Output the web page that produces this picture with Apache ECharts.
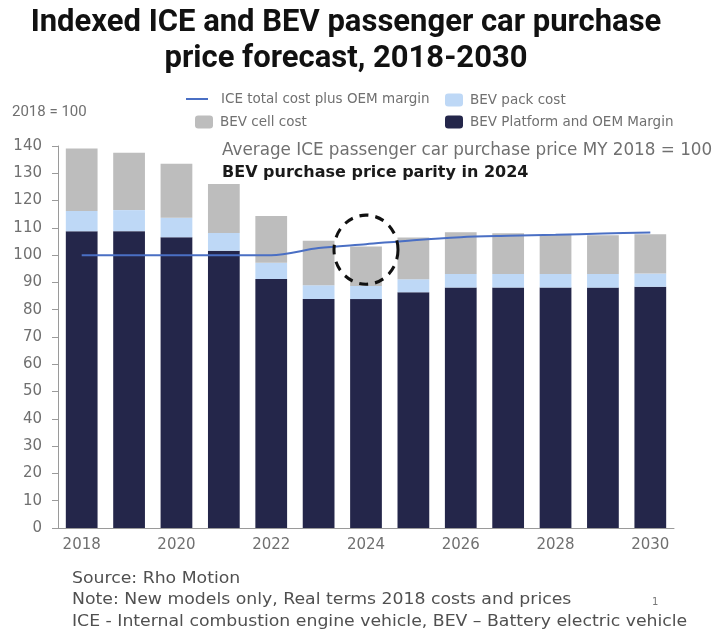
<!DOCTYPE html>
<html>
<head>
<meta charset="utf-8">
<script src="https://cdn.jsdelivr.net/npm/echarts@6/dist/echarts.min.js"></script>
<style>
  html, body { margin: 0; padding: 0; background: #fff; }
  #chart { width: 715px; height: 631px; }
</style>
</head>
<body>
<div id="chart"></div>
<script>
// Model years on the category axis
const years = ['2018','2019','2020','2021','2022','2023','2024','2025','2026','2027','2028','2029','2030'];

// Stacked BEV price components (index, MY 2018 ICE = 100)
const platformMargin = [108.8, 108.8, 106.6, 101.6, 91.3, 83.9, 83.9, 86.4, 88.1, 88.1, 88.1, 88.1, 88.4];
const packCost       = [7.4, 7.7, 7.1, 6.5, 5.9, 5.1, 4.8, 4.8, 5.0, 5.0, 5.0, 5.0, 4.9];
const cellCost       = [22.9, 21.0, 19.8, 18.0, 17.1, 16.3, 14.5, 15.3, 15.3, 14.9, 14.3, 14.2, 14.4];

// ICE total cost plus OEM margin
const iceTotal = [100, 100, 100, 100, 100, 102.6, 104.0, 105.5, 106.6, 107.1, 107.5, 107.9, 108.3];

// Value axis ticks
const yTicks = { min: 0, max: 140, interval: 10 };

// Where the parity callout sits
const parityYear = '2024';
const parityValue = 102;

const TITLE_FONT = 'Roboto, "Noto Sans", sans-serif';
const BODY_FONT = '"DejaVu Sans", "Noto Sans", sans-serif';
const GREY_TEXT = '#707070';

const chart = echarts.init(document.getElementById('chart'), null, { renderer: 'canvas' });

function legendAt(name, left, top, extra) {
  return Object.assign({
    data: [name],
    left: left,
    top: top,
    orient: 'horizontal',
    itemWidth: 18,
    itemHeight: 13,
    itemGap: 0,
    selectedMode: false,
    textStyle: { color: GREY_TEXT, fontFamily: BODY_FONT, fontSize: 13.5, padding: [0, 0, 0, 2] }
  }, extra || {});
}

const option = {
  backgroundColor: '#ffffff',
  animation: false,
  grid: { left: 58, right: 41, top: 146, bottom: 103, containLabel: false },
  legend: [
    legendAt('ICE total cost plus OEM margin', 181, 87, { icon: 'rect', itemWidth: 22, itemHeight: 2, textStyle: { color: GREY_TEXT, fontFamily: BODY_FONT, fontSize: 13.5, padding: [0, 0, 0, 8] } }),
    legendAt('BEV pack cost', 440, 88),
    legendAt('BEV cell cost', 190, 110),
    legendAt('BEV Platform and OEM Margin', 440, 110)
  ],
  xAxis: {
    type: 'category',
    data: years,
    boundaryGap: true,
    axisLine: { show: true, lineStyle: { color: '#9a9a9a', width: 1 } },
    axisTick: { show: false },
    axisLabel: {
      interval: 1,
      color: GREY_TEXT,
      fontFamily: BODY_FONT,
      fontSize: 15,
      margin: 10
    }
  },
  yAxis: {
    type: 'value',
    min: yTicks.min,
    max: yTicks.max,
    interval: yTicks.interval,
    axisLine: { show: true, lineStyle: { color: '#9a9a9a', width: 1 } },
    axisTick: { show: true, length: 6, lineStyle: { color: '#9a9a9a' } },
    splitLine: { show: false },
    axisLabel: { color: GREY_TEXT, fontFamily: BODY_FONT, fontSize: 15, margin: 16 }
  },
  series: [
    {
      name: 'BEV Platform and OEM Margin',
      type: 'bar',
      stack: 'bev',
      data: platformMargin,
      barCategoryGap: '33%',
      itemStyle: { color: '#24264a' }
    },
    {
      name: 'BEV pack cost',
      type: 'bar',
      stack: 'bev',
      data: packCost,
      itemStyle: { color: '#bed8f6' }
    },
    {
      name: 'BEV cell cost',
      type: 'bar',
      stack: 'bev',
      data: cellCost,
      itemStyle: { color: '#bdbdbd' }
    },
    {
      name: 'ICE total cost plus OEM margin',
      type: 'line',
      data: iceTotal,
      symbol: 'none',
      smooth: 0.3,
      lineStyle: { color: '#4a6fc4', width: 2 },
      itemStyle: { color: '#4a6fc4' },
      z: 5
    }
  ],
  graphic: [
    {
      type: 'text', x: 346, y: 5,
      style: {
        text: 'Indexed ICE and BEV passenger car purchase\nprice forecast, 2018-2030',
        fill: '#111111', font: 'bold 31px ' + TITLE_FONT, textAlign: 'center', lineHeight: 36
      }
    },
    {
      type: 'text', left: 12, top: 105,
      style: { text: '2018 = 100', fill: GREY_TEXT, font: '15px ' + TITLE_FONT }
    },
    {
      type: 'text', left: 222, top: 142,
      style: { text: 'Average ICE passenger car purchase price MY 2018 = 100', fill: GREY_TEXT, font: '16.8px ' + BODY_FONT }
    },
    {
      type: 'text', left: 222, top: 165,
      style: { text: 'BEV purchase price parity in 2024', fill: '#1a1a1a', font: 'bold 16px ' + BODY_FONT }
    },
    {
      type: 'text', x: 72, y: 568, scaleX: 1.08,
      style: {
        text: 'Source: Rho Motion\nNote: New models only, Real terms 2018 costs and prices\nICE - Internal combustion engine vehicle, BEV \u2013 Battery electric vehicle',
        fill: '#505050', font: '16px ' + BODY_FONT, lineHeight: 21.5
      }
    },
    {
      type: 'text', left: 652, top: 597,
      style: { text: '1', fill: '#777777', font: '10px ' + BODY_FONT }
    }
  ]
};

chart.setOption(option);

// Dashed parity ring placed on the axes' coordinates
const centre = chart.convertToPixel({ xAxisIndex: 0, yAxisIndex: 0 }, [parityYear, parityValue]);
chart.setOption({
  graphic: [{
    type: 'circle',
    id: 'parityRing',
    x: centre[0],
    y: centre[1],
    scaleY: 1.08,
    shape: { cx: 0, cy: 0, r: 32 },
    style: { fill: 'none', stroke: '#111111', lineWidth: 3, lineDash: [9, 7] },
    z: 10
  }]
});
</script>
</body>
</html>
